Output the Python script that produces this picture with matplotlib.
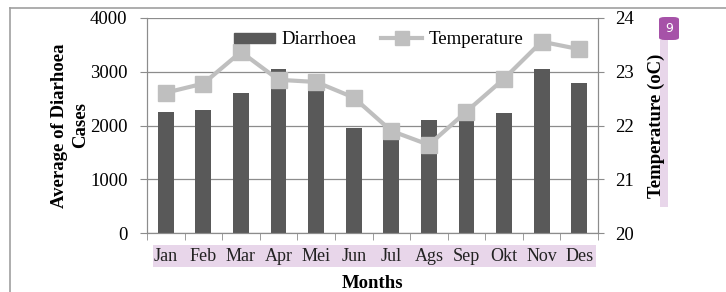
import matplotlib
matplotlib.use("Agg")
import matplotlib.pyplot as plt
from matplotlib.patches import Rectangle, FancyBboxPatch, Patch
from matplotlib.lines import Line2D

# monthly averages
MONTHS = ["Jan", "Feb", "Mar", "Apr", "Mei", "Jun", "Jul", "Ags",
          "Sep", "Okt", "Nov", "Des"]
DIARRHOEA = [2250, 2290, 2600, 3050, 2700, 1950, 1760, 2100,
             2100, 2230, 3050, 2800]
TEMPERATURE = [22.61, 22.78, 23.37, 22.85, 22.81, 22.52, 21.90, 21.64,
               22.26, 22.87, 23.56, 23.42]

C_BAR = "#595959"
C_LINE = "#BFBFBF"
C_AXIS = "#8c8c8c"
C_HL = "#e8d6ea"
FS = 13.5

plt.rcParams["font.family"] = ["Liberation Serif", "DejaVu Serif"]
plt.rcParams["font.size"] = FS

fig = plt.figure(figsize=(7.26, 2.92), dpi=100)
ax = fig.add_axes([147 / 726, 1 - 233 / 292, 451 / 726, 215 / 292])
ax2 = ax.twinx()

# pdf viewer furniture: page frame, highlights, comment badge
fig.add_artist(Line2D([10 / 726, 1], [1 - 8 / 292] * 2, color="#a0a0a0",
                      lw=1.2, transform=fig.transFigure))
fig.add_artist(Line2D([10 / 726] * 2, [0, 1 - 8 / 292], color="#a0a0a0",
                      lw=1.2, transform=fig.transFigure))
fig.add_artist(Rectangle((153 / 726, 1 - 267 / 292), 443 / 726, 22 / 292,
                         color=C_HL, lw=0, transform=fig.transFigure,
                         zorder=-5))
fig.add_artist(Rectangle((660 / 726, 1 - 207 / 292), 8 / 726, 167 / 292,
                         color=C_HL, lw=0, transform=fig.transFigure,
                         zorder=-5))
fig.add_artist(FancyBboxPatch((659 / 726, 1 - 40 / 292), 20 / 726,
                              23 / 292,
                              boxstyle="round,pad=0,rounding_size=0.008",
                              color="#a652a8", lw=0,
                              transform=fig.transFigure))
fig.text(669 / 726, 1 - 28.5 / 292, "9", color="white", fontsize=9,
         family="DejaVu Sans", ha="center", va="center")

x = list(range(len(MONTHS)))
ax.bar(x, DIARRHOEA, width=0.42, color=C_BAR, zorder=2)
ax2.plot(x, TEMPERATURE, color=C_LINE, lw=3, marker="s", ms=12,
         mfc=C_LINE, mec=C_LINE, zorder=3)

ax.set_xlim(-0.5, 11.5)
ax.set_ylim(0, 4000)
ax.set_yticks([0, 1000, 2000, 3000, 4000])
ax2.set_ylim(20, 24)
ax2.set_yticks([20, 21, 22, 23, 24])
ax.yaxis.grid(True, color=C_AXIS, lw=0.9, zorder=0)
ax.set_axisbelow(True)

ax.set_xticks(x)
ax.set_xticklabels(MONTHS)
ax.set_xticks([i - 0.5 for i in range(13)], minor=True)
ax.tick_params(axis="x", which="major", length=0, pad=11, labelsize=13,
               labelcolor="#222222")
ax.tick_params(axis="x", which="minor", length=5, color=C_AXIS)
ax.tick_params(axis="y", length=5, color=C_AXIS, labelsize=FS, pad=9)
ax2.tick_params(axis="y", length=4, color=C_AXIS, labelsize=FS, pad=8)

for a in (ax, ax2):
    a.spines["top"].set_visible(False)
    for s in ("left", "right", "bottom"):
        a.spines[s].set_color(C_AXIS)

ax.set_xlabel("Months", fontweight="bold", fontsize=FS, labelpad=7)
ax.set_ylabel("Average of Diarhoea\nCases", fontweight="bold",
              fontsize=FS, linespacing=1.25, labelpad=1)
ax2.set_ylabel("Temperature (oC)", fontweight="bold", fontsize=FS,
               labelpad=10)

handles = [Patch(color=C_BAR, label="Diarrhoea"),
           Line2D([], [], color=C_LINE, lw=3, marker="s", ms=10,
                  label="Temperature")]
ax2.legend(handles=handles, loc="upper center", ncol=2, frameon=False,
           fontsize=FS, bbox_to_anchor=(0.514, 1.017), handlelength=2.2,
           handleheight=0.45, columnspacing=1.3, handletextpad=0.35)

fig.savefig("out.png", dpi=100)
